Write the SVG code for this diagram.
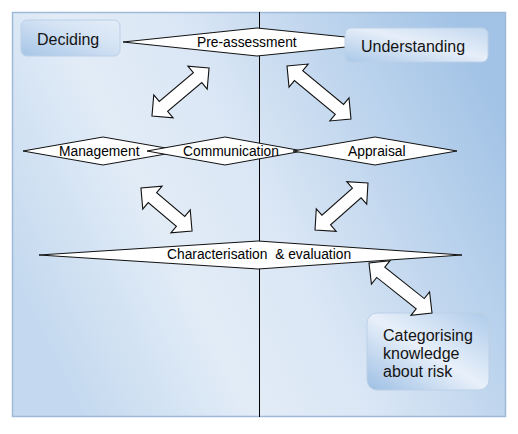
<svg xmlns="http://www.w3.org/2000/svg" width="518" height="434" viewBox="0 0 518 434">
  <defs>
    <linearGradient id="bg" x1="0" y1="0.65" x2="1" y2="0.25">
      <stop offset="0" stop-color="#c4d9ef"/>
      <stop offset="0.3" stop-color="#e2ecf7"/>
      <stop offset="0.5" stop-color="#dbe7f5"/>
      <stop offset="1" stop-color="#a2c3e6"/>
    </linearGradient>
    <linearGradient id="boxA" x1="0" y1="1" x2="1" y2="0">
      <stop offset="0" stop-color="#a6c5e7"/>
      <stop offset="0.6" stop-color="#d4e3f4"/>
      <stop offset="1" stop-color="#e4edf8"/>
    </linearGradient>
    <linearGradient id="boxB" x1="0" y1="1" x2="1" y2="0">
      <stop offset="0" stop-color="#a9c8e8"/>
      <stop offset="0.55" stop-color="#e6eef9"/>
      <stop offset="1" stop-color="#c3d8ef"/>
    </linearGradient>
    <linearGradient id="boxC" x1="0" y1="1" x2="1" y2="0">
      <stop offset="0" stop-color="#9dbfe4"/>
      <stop offset="0.5" stop-color="#e8f0fa"/>
      <stop offset="1" stop-color="#aecbea"/>
    </linearGradient>
  </defs>
  <style>
    .box { stroke: #bcd0e6; stroke-width: 1; }
    .blabel { font-family: "Liberation Sans", Arial, sans-serif; font-size: 16px; fill: #141414; }
    .dia { fill: #ffffff; stroke: #111111; stroke-width: 1; }
    .dlabel { font-family: "Liberation Sans", Arial, sans-serif; font-size: 13.8px; fill: #000000; white-space: pre; }
    .arrow { fill: #ffffff; stroke: #111111; stroke-width: 1.1; stroke-linejoin: miter; }
  </style>

  <rect x="12.5" y="12.5" width="493" height="404" fill="url(#bg)" stroke="#9fbad8" stroke-width="1.5"/>
  <line x1="259.5" y1="12" x2="259.5" y2="417" stroke="#000000" stroke-width="1"/>

  <g id="pre-assessment">
    <polygon class="dia" points="123,42 257,28 395,42 257,56"/>
    <text class="dlabel" x="197" y="47">Pre-assessment</text>
  </g>
  <g id="deciding">
    <rect class="box" x="21" y="20" width="99" height="36" rx="6" fill="url(#boxA)"/>
    <text class="blabel" x="37" y="45">Deciding</text>
  </g>
  <g id="understanding">
    <rect class="box" x="345" y="28" width="143" height="34" rx="6" fill="url(#boxB)"/>
    <text class="blabel" x="361" y="52">Understanding</text>
  </g>

  <g id="management">
    <polygon class="dia" points="23,151 103,137 183,151 103,165"/>
    <text class="dlabel" x="59" y="156">Management</text>
  </g>
  <g id="communication">
    <polygon class="dia" points="147,151 225,137 303,151 225,165"/>
    <text class="dlabel" x="183" y="156">Communication</text>
  </g>
  <g id="appraisal">
    <polygon class="dia" points="293,151 375,137 457,151 375,165"/>
    <text class="dlabel" x="348" y="156">Appraisal</text>
  </g>

  <g id="characterisation">
    <polygon class="dia" points="39,255 258,241 462,255 258,269"/>
    <text class="dlabel" x="167" y="259">Characterisation  &amp; evaluation</text>
  </g>

  <g id="categorising">
    <rect class="box" x="367" y="313" width="122" height="77" rx="10" fill="url(#boxC)"/>
    <text class="blabel" x="383" y="341">Categorising</text>
    <text class="blabel" x="383" y="359">knowledge</text>
    <text class="blabel" x="383" y="377">about risk</text>
  </g>

  <g id="connectors">
    <polygon class="arrow" transform="translate(180.5,92) rotate(-40.1)" points="37.3,0 22.3,-15 22.3,-6.5 -22.3,-6.5 -22.3,-15 -37.3,0 -22.3,15 -22.3,6.5 22.3,6.5 22.3,15"/>
    <polygon class="arrow" transform="translate(319,92.5) rotate(39.6)" points="41.5,0 26.5,-15 26.5,-6.5 -26.5,-6.5 -26.5,-15 -41.5,0 -26.5,15 -26.5,6.5 26.5,6.5 26.5,15"/>
    <polygon class="arrow" transform="translate(166.5,209.5) rotate(40.1)" points="33.4,0 18.4,-15 18.4,-6.5 -18.4,-6.5 -18.4,-15 -33.4,0 -18.4,15 -18.4,6.5 18.4,6.5 18.4,15"/>
    <polygon class="arrow" transform="translate(341.5,206.5) rotate(-41.6)" points="35.4,0 20.4,-15 20.4,-6.5 -20.4,-6.5 -20.4,-15 -35.4,0 -20.4,15 -20.4,6.5 20.4,6.5 20.4,15"/>
    <polygon class="arrow" transform="translate(400.5,288) rotate(38.4)" points="40.2,0 25.2,-15 25.2,-6.5 -25.2,-6.5 -25.2,-15 -40.2,0 -25.2,15 -25.2,6.5 25.2,6.5 25.2,15"/>
  </g>
</svg>
